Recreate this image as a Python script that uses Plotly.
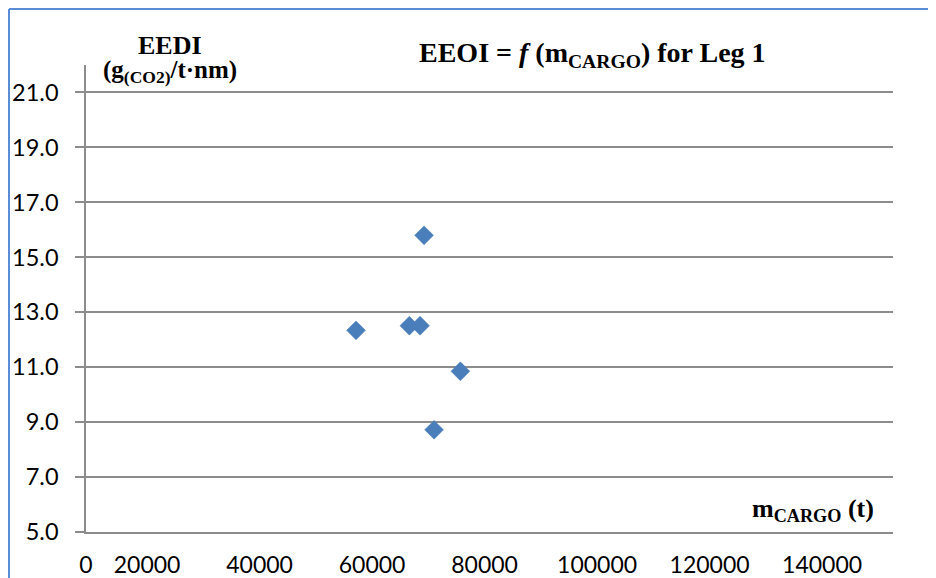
import plotly.graph_objects as go

# ---- data ----
cargo_mass_t = [57150, 66630, 68530, 69240, 75700, 71020]
eeoi_values = [12.34, 12.51, 12.51, 15.80, 10.85, 8.72]

y_tick_values = [5, 7, 9, 11, 13, 15, 17, 19, 21]
x_tick_values = [20000, 40000, 60000, 80000, 100000, 120000, 140000]
x_tick_labels = ["20000", "40000", "60000", "80000", "100000", "120000", "140000"]
x_origin_label = "0"

X_RANGE = [9150, 152600]
Y_RANGE = [5, 22]

# page offset of the plot div (default body margin)
OFF = 8
W, H = 936 - OFF, 578 - OFF
L, R, T, B = 86 - OFF, W - (893 - OFF), 65 - OFF, H - (532 - OFF)

pw = W - L - R
ph = H - T - B


def px_x(px):
    """page pixel x -> paper coordinate"""
    return (px - OFF - L) / pw


def px_y(py):
    """page pixel y -> paper coordinate"""
    return (H - B - (py - OFF)) / ph


marker_blue = "#4A7EBB"
grid_gray = "#8C8C8C"
border_blue = "#5B8DD6"
serif = "Liberation Serif, Times New Roman, serif"
sans = "Lato, Carlito, Calibri, sans-serif"

fig = go.Figure()
fig.add_trace(go.Scatter(
    x=cargo_mass_t, y=eeoi_values, mode="markers",
    marker=dict(symbol="diamond", size=14.5, color=marker_blue,
                line=dict(width=0.5, color=marker_blue)),
    showlegend=False, hoverinfo="x+y",
))

fig.update_layout(
    width=W, height=H,
    margin=dict(l=L, r=R, t=T, b=B, pad=0, autoexpand=False),
    paper_bgcolor="white", plot_bgcolor="white",
    font=dict(family=sans, size=23, color="black"),
    xaxis=dict(
        range=X_RANGE, automargin=False,
        tickmode="array",
        tickvals=[X_RANGE[0]] + x_tick_values,
        ticktext=[x_origin_label] + x_tick_labels,
        showgrid=False, zeroline=False,
        showline=True, linecolor=grid_gray, linewidth=1.5,
        ticks="", ticklabelstandoff=12,
        tickfont=dict(family=sans, size=23, color="black"),
    ),
    yaxis=dict(
        range=Y_RANGE, automargin=False,
        tickmode="array", tickvals=y_tick_values,
        tickformat=".1f",
        showgrid=True, gridcolor=grid_gray, gridwidth=1.5,
        zeroline=False,
        showline=True, linecolor=grid_gray, linewidth=1.5,
        ticks="outside", ticklen=9, tickcolor=grid_gray, tickwidth=1.5,
        ticklabelstandoff=12,
        tickfont=dict(family=sans, size=23.5, color="black"),
    ),
)

# outer border (left and top edges visible)
fig.add_shape(type="line", xref="paper", yref="paper",
              x0=px_x(9), y0=px_y(9), x1=px_x(940), y1=px_y(9),
              line=dict(color=border_blue, width=2))
fig.add_shape(type="line", xref="paper", yref="paper",
              x0=px_x(9), y0=px_y(9), x1=px_x(9), y1=px_y(590),
              line=dict(color=border_blue, width=2))

# chart title
fig.add_annotation(
    xref="paper", yref="paper", x=px_x(417), y=px_y(35),
    xanchor="left", yanchor="top", showarrow=False,
    text="<b>EEOI = <i>f</i> (m<sub>CARGO</sub>) for Leg 1</b>",
    font=dict(family=serif, size=28, color="black"),
)

# y-axis title (two lines)
fig.add_annotation(
    xref="paper", yref="paper", x=px_x(170), y=px_y(29),
    xanchor="center", yanchor="top", showarrow=False,
    text="<b>EEDI</b>",
    font=dict(family=serif, size=26, color="black"),
)
fig.add_annotation(
    xref="paper", yref="paper", x=px_x(170), y=px_y(54),
    xanchor="center", yanchor="top", showarrow=False,
    text="<b>(g<sub>(CO2)</sub>/t·nm)</b>",
    font=dict(family=serif, size=25, color="black"),
)

# x-axis title
fig.add_annotation(
    xref="paper", yref="paper", x=px_x(876), y=px_y(492),
    xanchor="right", yanchor="top", showarrow=False,
    text="<b>m<sub>CARGO</sub> (t)</b>",
    font=dict(family=serif, size=26, color="black"),
)

fig.write_html("out.html")
